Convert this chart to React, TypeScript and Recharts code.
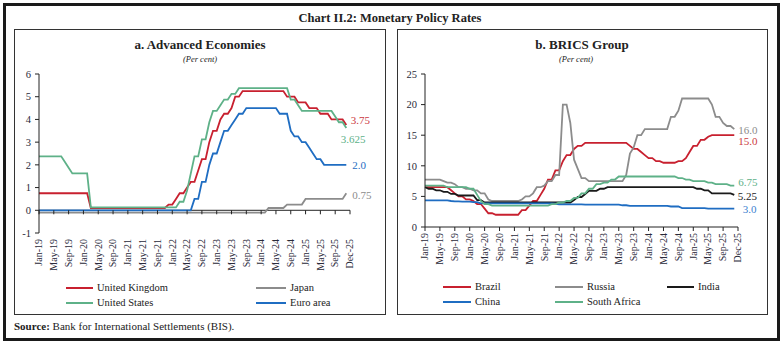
import React from 'react'
import { LineChart, Line, XAxis, YAxis, ReferenceLine } from 'recharts'

// month index 0 = Jan-19 ... 83 = Dec-25 (end-of-month policy rates, per cent)
const TICK_MONTHS = [0, 4, 8, 12, 16, 20, 24, 28, 32, 36, 40, 44, 48, 52, 56, 60, 64, 68, 72, 76, 80, 84]
const TICK_LABELS = [
  'Jan-19', 'May-19', 'Sep-19', 'Jan-20', 'May-20', 'Sep-20', 'Jan-21', 'May-21', 'Sep-21', 'Jan-22', 'May-22',
  'Sep-22', 'Jan-23', 'May-23', 'Sep-23', 'Jan-24', 'May-24', 'Sep-24', 'Jan-25', 'May-25', 'Sep-25', 'Dec-25',
]

const UK = [
  0.75, 0.75, 0.75, 0.75, 0.75, 0.75, 0.75, 0.75, 0.75, 0.75, 0.75, 0.75,
  0.75, 0.75, 0.1, 0.1, 0.1, 0.1, 0.1, 0.1, 0.1, 0.1, 0.1, 0.1,
  0.1, 0.1, 0.1, 0.1, 0.1, 0.1, 0.1, 0.1, 0.1, 0.1, 0.1, 0.25,
  0.25, 0.5, 0.75, 0.75, 1.0, 1.25, 1.25, 1.75, 2.25, 2.25, 3.0, 3.5,
  3.5, 4.0, 4.25, 4.25, 4.5, 5.0, 5.0, 5.25, 5.25, 5.25, 5.25, 5.25,
  5.25, 5.25, 5.25, 5.25, 5.25, 5.25, 5.25, 5.0, 5.0, 5.0, 4.75, 4.75,
  4.75, 4.5, 4.5, 4.5, 4.25, 4.25, 4.25, 4.0, 4.0, 4.0, 4.0, 3.75,
]
const US = [
  2.375, 2.375, 2.375, 2.375, 2.375, 2.375, 2.375, 2.125, 1.875, 1.625, 1.625, 1.625,
  1.625, 1.625, 0.125, 0.125, 0.125, 0.125, 0.125, 0.125, 0.125, 0.125, 0.125, 0.125,
  0.125, 0.125, 0.125, 0.125, 0.125, 0.125, 0.125, 0.125, 0.125, 0.125, 0.125, 0.125,
  0.125, 0.125, 0.375, 0.375, 0.875, 1.625, 2.375, 2.375, 3.125, 3.125, 3.875, 4.375,
  4.375, 4.625, 4.875, 4.875, 5.125, 5.125, 5.375, 5.375, 5.375, 5.375, 5.375, 5.375,
  5.375, 5.375, 5.375, 5.375, 5.375, 5.375, 5.375, 5.375, 4.875, 4.875, 4.625, 4.375,
  4.375, 4.375, 4.375, 4.375, 4.375, 4.375, 4.375, 4.375, 4.125, 3.875, 3.875, 3.625,
]
const EURO = [
  0, 0, 0, 0, 0, 0, 0, 0, 0, 0, 0, 0,
  0, 0, 0, 0, 0, 0, 0, 0, 0, 0, 0, 0,
  0, 0, 0, 0, 0, 0, 0, 0, 0, 0, 0, 0,
  0, 0, 0, 0, 0, 0, 0.5, 0.5, 1.25, 1.25, 2.0, 2.5,
  2.5, 3.0, 3.5, 3.5, 3.75, 4.0, 4.25, 4.25, 4.5, 4.5, 4.5, 4.5,
  4.5, 4.5, 4.5, 4.5, 4.5, 4.25, 4.25, 4.25, 3.5, 3.25, 3.25, 3.0,
  3.0, 2.75, 2.5, 2.25, 2.25, 2.0, 2.0, 2.0, 2.0, 2.0, 2.0, 2.0,
]
const JAPAN = [
  -0.1, -0.1, -0.1, -0.1, -0.1, -0.1, -0.1, -0.1, -0.1, -0.1, -0.1, -0.1,
  -0.1, -0.1, -0.1, -0.1, -0.1, -0.1, -0.1, -0.1, -0.1, -0.1, -0.1, -0.1,
  -0.1, -0.1, -0.1, -0.1, -0.1, -0.1, -0.1, -0.1, -0.1, -0.1, -0.1, -0.1,
  -0.1, -0.1, -0.1, -0.1, -0.1, -0.1, -0.1, -0.1, -0.1, -0.1, -0.1, -0.1,
  -0.1, -0.1, -0.1, -0.1, -0.1, -0.1, -0.1, -0.1, -0.1, -0.1, -0.1, -0.1,
  -0.1, -0.1, 0.1, 0.1, 0.1, 0.1, 0.1, 0.25, 0.25, 0.25, 0.25, 0.25,
  0.5, 0.5, 0.5, 0.5, 0.5, 0.5, 0.5, 0.5, 0.5, 0.5, 0.5, 0.75,
]

const BRAZIL = [
  6.5, 6.5, 6.5, 6.5, 6.5, 6.5, 6.5, 6.0, 5.5, 5.0, 5.0, 4.5,
  4.5, 4.25, 3.75, 3.75, 3.0, 2.25, 2.25, 2.0, 2.0, 2.0, 2.0, 2.0,
  2.0, 2.0, 2.75, 2.75, 3.5, 4.25, 4.25, 5.25, 6.25, 7.75, 7.75, 9.25,
  9.25, 10.75, 11.75, 11.75, 12.75, 13.25, 13.25, 13.75, 13.75, 13.75, 13.75, 13.75,
  13.75, 13.75, 13.75, 13.75, 13.75, 13.75, 13.75, 13.25, 12.75, 12.75, 12.25, 11.75,
  11.25, 11.25, 10.75, 10.75, 10.5, 10.5, 10.5, 10.5, 10.75, 10.75, 11.25, 12.25,
  13.25, 13.25, 14.25, 14.25, 14.75, 15.0, 15.0, 15.0, 15.0, 15.0, 15.0, 15.0,
]
const RUSSIA = [
  7.75, 7.75, 7.75, 7.75, 7.75, 7.5, 7.25, 7.25, 7.0, 6.5, 6.5, 6.25,
  6.25, 6.0, 6.0, 5.5, 5.5, 4.5, 4.25, 4.25, 4.25, 4.25, 4.25, 4.25,
  4.25, 4.25, 4.5, 5.0, 5.0, 5.5, 6.5, 6.5, 6.75, 7.5, 7.5, 8.5,
  8.5, 20.0, 20.0, 17.0, 11.0, 9.5, 8.0, 8.0, 7.5, 7.5, 7.5, 7.5,
  7.5, 7.5, 7.5, 7.5, 7.5, 7.5, 8.5, 12.0, 13.0, 15.0, 15.0, 16.0,
  16.0, 16.0, 16.0, 16.0, 16.0, 16.0, 18.0, 18.0, 19.0, 21.0, 21.0, 21.0,
  21.0, 21.0, 21.0, 21.0, 21.0, 20.0, 18.0, 18.0, 17.0, 16.5, 16.5, 16.0,
]
const INDIA = [
  6.5, 6.25, 6.25, 6.0, 6.0, 5.75, 5.75, 5.4, 5.4, 5.15, 5.15, 5.15,
  5.15, 5.15, 4.4, 4.4, 4.0, 4.0, 4.0, 4.0, 4.0, 4.0, 4.0, 4.0,
  4.0, 4.0, 4.0, 4.0, 4.0, 4.0, 4.0, 4.0, 4.0, 4.0, 4.0, 4.0,
  4.0, 4.0, 4.0, 4.0, 4.4, 4.9, 4.9, 5.4, 5.9, 5.9, 5.9, 6.25,
  6.25, 6.5, 6.5, 6.5, 6.5, 6.5, 6.5, 6.5, 6.5, 6.5, 6.5, 6.5,
  6.5, 6.5, 6.5, 6.5, 6.5, 6.5, 6.5, 6.5, 6.5, 6.5, 6.5, 6.5,
  6.5, 6.25, 6.25, 6.0, 6.0, 5.5, 5.5, 5.5, 5.5, 5.5, 5.5, 5.25,
]
const CHINA = [
  4.35, 4.35, 4.35, 4.35, 4.35, 4.35, 4.35, 4.25, 4.2, 4.2, 4.15, 4.15,
  4.15, 4.05, 4.05, 3.85, 3.85, 3.85, 3.85, 3.85, 3.85, 3.85, 3.85, 3.85,
  3.85, 3.85, 3.85, 3.85, 3.85, 3.85, 3.85, 3.85, 3.85, 3.85, 3.85, 3.8,
  3.7, 3.7, 3.7, 3.7, 3.7, 3.7, 3.7, 3.65, 3.65, 3.65, 3.65, 3.65,
  3.65, 3.65, 3.65, 3.65, 3.65, 3.55, 3.55, 3.45, 3.45, 3.45, 3.45, 3.45,
  3.45, 3.45, 3.45, 3.45, 3.45, 3.45, 3.35, 3.35, 3.35, 3.1, 3.1, 3.1,
  3.1, 3.1, 3.1, 3.1, 3.0, 3.0, 3.0, 3.0, 3.0, 3.0, 3.0, 3.0,
]
const SOUTH_AFRICA = [
  6.75, 6.75, 6.75, 6.75, 6.75, 6.75, 6.5, 6.5, 6.5, 6.5, 6.5, 6.5,
  6.25, 6.25, 5.25, 4.25, 3.75, 3.75, 3.5, 3.5, 3.5, 3.5, 3.5, 3.5,
  3.5, 3.5, 3.5, 3.5, 3.5, 3.5, 3.5, 3.5, 3.5, 3.5, 3.75, 3.75,
  4.0, 4.0, 4.25, 4.25, 4.75, 4.75, 5.5, 5.5, 6.25, 6.25, 7.0, 7.0,
  7.25, 7.25, 7.75, 7.75, 8.25, 8.25, 8.25, 8.25, 8.25, 8.25, 8.25, 8.25,
  8.25, 8.25, 8.25, 8.25, 8.25, 8.25, 8.25, 8.25, 8.0, 8.0, 7.75, 7.75,
  7.5, 7.5, 7.5, 7.5, 7.25, 7.25, 7.0, 7.0, 7.0, 7.0, 6.75, 6.75,
]

const advanced = UK.map((v, i) => ({ m: i, uk: v, us: US[i], ea: EURO[i], jp: JAPAN[i] }))
const brics = BRAZIL.map((v, i) => ({
  m: i, br: v, ru: RUSSIA[i], in: INDIA[i], cn: CHINA[i], za: SOUTH_AFRICA[i],
}))

const SERIF = '"Liberation Serif", "Times New Roman", serif'
const INK = '#222'
const RED = '#C8202F'
const GREEN = '#5EB188'
const BLUE = '#1F6DC2'
const GRAY = '#8C8C8C'
const BLACK = '#1a1a1a'

const tickLabel = (m: number) => TICK_LABELS[TICK_MONTHS.indexOf(m)] ?? ''
const fmtEnd = (v: number) => (Number.isInteger(v) ? v.toFixed(1) : String(v))

// left chart geometry
const LW = 372
const LH = 252
const L_TOP = 45
const L_XH = 36
const L_BOTTOM = 12
const L_PLOT_H = LH - L_TOP - L_XH - L_BOTTOM
const L_ZERO_UP = L_PLOT_H / 7 // distance from -1 to 0

// right chart geometry
const RW = 370
const RH = 252
const R_TOP = 45
const R_XH = 42
const R_BOTTOM = 12

function DateTick({ x, y, payload, zeroLift }: any) {
  return (
    <g>
      {zeroLift != null && (
        <line x1={x} x2={x} y1={y - 5 - zeroLift} y2={y - 1 - zeroLift} stroke={INK} strokeWidth={1} />
      )}
      <text
        x={x}
        y={y + 1}
        transform={`rotate(-90 ${x} ${y + 1})`}
        textAnchor="end"
        dy="0.33em"
        fontFamily={SERIF}
        fontSize={10}
        fill="#2a2a3a"
      >
        {tickLabel(payload.value)}
      </text>
    </g>
  )
}

function endLabel(last: number, color: string, dx: number, dy: number) {
  return (p: any) => {
    if (p.index !== last) return null
    return (
      <text
        key="end"
        x={p.x + dx}
        y={p.y + dy}
        dy="0.35em"
        fontFamily={SERIF}
        fontSize={11}
        fill={color}
      >
        {fmtEnd(p.value)}
      </text>
    )
  }
}

function LegendItem({ x1, x2, y, color, label }: { x1: number; x2: number; y: number; color: string; label: string }) {
  return (
    <>
      <div style={{ position: 'absolute', left: x1, top: y - 1, width: x2 - x1, height: 2, background: color }} />
      <div
        style={{
          position: 'absolute', left: x2 + 4, top: y - 7, lineHeight: '14px', fontSize: 10.5,
          fontFamily: SERIF, color: INK, whiteSpace: 'nowrap',
        }}
      >
        {label}
      </div>
    </>
  )
}

function CenterText({ cx, cy, children, style }: any) {
  return (
    <div
      style={{
        position: 'absolute', left: cx - 200, width: 400, top: cy - 8, lineHeight: '16px',
        textAlign: 'center', fontFamily: SERIF, color: INK, whiteSpace: 'nowrap', ...style,
      }}
    >
      {children}
    </div>
  )
}

const tickStyle = { fontFamily: SERIF, fontSize: 10.5, fill: '#2a2a3a' }
const last = UK.length - 1

export default function App() {
  return (
    <div style={{ position: 'absolute', left: 0, top: 0, width: 780, height: 342, background: '#fff', overflow: 'hidden' }}>
      <div
        style={{
          position: 'absolute', left: 3, top: 3, width: 777, height: 338, boxSizing: 'border-box',
          border: '3px solid #1a1a1a',
        }}
      />
      <CenterText cx={390} cy={17.5} style={{ fontWeight: 'bold', fontSize: 12.5 }}>
        Chart II.2: Monetary Policy Rates
      </CenterText>

      {/* panel a */}
      <div style={{ position: 'absolute', left: 14, top: 29, width: 372, height: 286, border: '1px solid #333', boxSizing: 'border-box' }} />
      <CenterText cx={200} cy={45} style={{ fontWeight: 'bold', fontSize: 13 }}>
        a. Advanced Economies
      </CenterText>
      <CenterText cx={200} cy={59} style={{ fontStyle: 'italic', fontSize: 8.5 }}>
        (Per cent)
      </CenterText>
      <div style={{ position: 'absolute', left: 14, top: 29 }}>
        <LineChart width={LW} height={LH} data={advanced} margin={{ top: L_TOP, right: 36, bottom: L_BOTTOM, left: 0 }}>
          <XAxis
            dataKey="m"
            type="number"
            domain={[0, 84]}
            ticks={TICK_MONTHS}
            interval={0}
            height={L_XH}
            axisLine={false}
            tickLine={false}
            tickSize={4}
            tickMargin={1}
            tick={<DateTick zeroLift={L_ZERO_UP} />}
          />
          <YAxis
            domain={[-1, 6]}
            ticks={[-1, 0, 1, 2, 3, 4, 5, 6]}
            interval={0}
            width={25}
            tickSize={4}
            tickMargin={4}
            axisLine={{ stroke: INK }}
            tickLine={{ stroke: INK }}
            tick={tickStyle}
          />
          <ReferenceLine y={0} stroke={INK} strokeWidth={1} ifOverflow="extendDomain" />
          <Line dataKey="jp" stroke={GRAY} strokeWidth={1.8} dot={false} isAnimationActive={false}
            label={endLabel(last, GRAY, 6, 1.5)} />
          <Line dataKey="uk" stroke={RED} strokeWidth={1.8} dot={false} isAnimationActive={false}
            label={endLabel(last, '#CC3A42', 4.5, -5)} />
          <Line dataKey="us" stroke={GREEN} strokeWidth={1.8} dot={false} isAnimationActive={false}
            label={endLabel(last, GREEN, -5.5, 11)} />
          <Line dataKey="ea" stroke={BLUE} strokeWidth={1.8} dot={false} isAnimationActive={false}
            label={endLabel(last, BLUE, 6, 0)} />
        </LineChart>
      </div>
      <LegendItem x1={66} x2={93} y={288} color={RED} label="United Kingdom" />
      <LegendItem x1={66} x2={93} y={302.5} color={GREEN} label="United States" />
      <LegendItem x1={256} x2={286} y={288} color={GRAY} label="Japan" />
      <LegendItem x1={256} x2={286} y={302.5} color={BLUE} label="Euro area" />

      {/* panel b */}
      <div style={{ position: 'absolute', left: 397, top: 29, width: 371, height: 286, border: '1px solid #333', boxSizing: 'border-box' }} />
      <CenterText cx={582} cy={45} style={{ fontWeight: 'bold', fontSize: 13 }}>
        b. BRICS Group
      </CenterText>
      <CenterText cx={576} cy={59} style={{ fontStyle: 'italic', fontSize: 8.5 }}>
        (Per cent)
      </CenterText>
      <div style={{ position: 'absolute', left: 397, top: 29 }}>
        <LineChart width={RW} height={RH} data={brics} margin={{ top: R_TOP, right: 29, bottom: R_BOTTOM, left: 0 }}>
          <XAxis
            dataKey="m"
            type="number"
            domain={[0, 84]}
            ticks={TICK_MONTHS}
            interval={0}
            height={R_XH}
            axisLine={{ stroke: INK }}
            tickLine={{ stroke: INK }}
            tickSize={4}
            tickMargin={1}
            tick={<DateTick />}
          />
          <YAxis
            domain={[0, 25]}
            ticks={[0, 5, 10, 15, 20, 25]}
            interval={0}
            width={28}
            tickSize={4}
            tickMargin={4}
            axisLine={{ stroke: INK }}
            tickLine={{ stroke: INK }}
            tick={tickStyle}
          />
          <Line dataKey="br" stroke={RED} strokeWidth={1.8} dot={false} isAnimationActive={false}
            label={endLabel(last, '#CC3A42', 4, 5.5)} />
          <Line dataKey="ru" stroke={GRAY} strokeWidth={1.8} dot={false} isAnimationActive={false}
            label={endLabel(last, GRAY, 4, 1)} />
          <Line dataKey="in" stroke={BLACK} strokeWidth={1.8} dot={false} isAnimationActive={false}
            label={endLabel(last, BLACK, 3.5, 1)} />
          <Line dataKey="cn" stroke={BLUE} strokeWidth={1.8} dot={false} isAnimationActive={false}
            label={endLabel(last, '#3C7FD0', 8.5, 0.7)} />
          <Line dataKey="za" stroke={GREEN} strokeWidth={1.8} dot={false} isAnimationActive={false}
            label={endLabel(last, GREEN, 4, -4)} />
        </LineChart>
      </div>
      <LegendItem x1={443} x2={471} y={287} color={RED} label="Brazil" />
      <LegendItem x1={555} x2={583} y={287} color={GRAY} label="Russia" />
      <LegendItem x1={667} x2={694} y={287} color={BLACK} label="India" />
      <LegendItem x1={443} x2={471} y={302} color={BLUE} label="China" />
      <LegendItem x1={555} x2={583} y={302} color={GREEN} label="South Africa" />

      <div style={{ position: 'absolute', left: 14, top: 319, lineHeight: '14px', fontSize: 11, fontFamily: SERIF, color: INK }}>
        <b>Source:</b> Bank for International Settlements (BIS).
      </div>
    </div>
  )
}
